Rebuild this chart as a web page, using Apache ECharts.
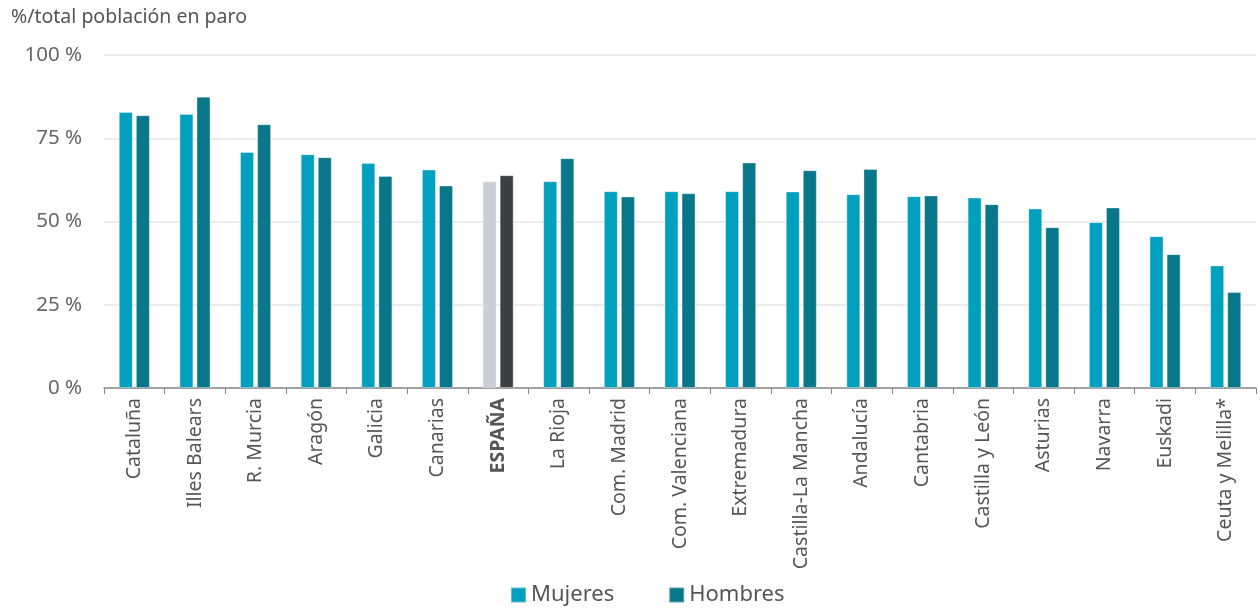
<!DOCTYPE html>
<html><head><meta charset="utf-8">
<script src="https://cdn.jsdelivr.net/npm/echarts@6/dist/echarts.min.js"></script>
<style>html,body{margin:0;padding:0;background:#fff}#c{width:1260px;height:609px}</style>
</head><body><div id="c"></div>
<script>
const categories = ["Cataluña","Illes Balears","R. Murcia","Aragón","Galicia","Canarias","ESPAÑA","La Rioja","Com. Madrid","Com. Valenciana","Extremadura","Castilla-La Mancha","Andalucía","Cantabria","Castilla y León","Asturias","Navarra","Euskadi","Ceuta y Melilla*"];
const mujeres = [82.9,82.3,70.9,70.2,67.6,65.6,62.1,62.1,59.1,59.1,59.1,59.0,58.2,57.6,57.2,53.9,49.8,45.6,36.8];
const hombres = [81.9,87.5,79.2,69.3,63.7,60.8,63.9,69.0,57.5,58.5,67.7,65.4,65.8,57.8,55.2,48.3,54.2,40.2,28.8];
const yTicks = [0,25,50,75,100];
const highlight = "ESPAÑA";

const cM = "#00A0BE", cH = "#077789", cMe = "#CBCFD6", cHe = "#3D3F42";
const font = "'Noto Sans', 'Open Sans', sans-serif";
const chart = echarts.init(document.getElementById('c'));
const mk = (vals, c, ce) => vals.map((v,i)=>({value:v,itemStyle:{color: categories[i]===highlight?ce:c}}));
chart.setOption({
  animation:false,
  title:{text:"%/total población en paro",left:6,top:2,textStyle:{fontFamily:font,fontSize:19.5,fontWeight:'normal',color:'#555'}},
  legend:{top:579,left:505,itemWidth:15,itemHeight:15,itemGap:54,icon:'rect',
    textStyle:{fontFamily:font,fontSize:22,color:'#555'},
    data:[{name:'Mujeres',itemStyle:{color:cM}},{name:'Hombres',itemStyle:{color:cH}}]},
  grid:{left:104,right:4,top:55,bottom:221,containLabel:false},
  xAxis:{type:'category',data:categories,
    axisLine:{lineStyle:{color:'#888',width:1.5}},
    axisTick:{show:true,length:6,lineStyle:{color:'#888'}},
    axisLabel:{rotate:90,fontFamily:font,fontSize:19.5,color:'#555',margin:10,interval:0,
      formatter:v=>v===highlight?'{b|'+v+'}':v,
      rich:{b:{fontWeight:'bold',fontFamily:font,fontSize:19.5,color:'#555'}}}},
  yAxis:{type:'value',min:yTicks[0],max:yTicks[yTicks.length-1],interval:25,
    axisLabel:{formatter:'{value} %',fontFamily:font,fontSize:20.5,color:'#666',margin:22},
    splitLine:{lineStyle:{color:'#e6e6ea',width:1.5}},axisLine:{show:false},axisTick:{show:false}},
  series:[
    {name:'Mujeres',type:'bar',data:mk(mujeres,cM,cMe),barWidth:14,barGap:'22%',itemStyle:{color:cM,borderColor:'rgba(255,255,255,0.35)',borderWidth:1}},
    {name:'Hombres',type:'bar',data:mk(hombres,cH,cHe),barWidth:14,barGap:'22%',itemStyle:{color:cH,borderColor:'rgba(255,255,255,0.35)',borderWidth:1}}
  ]
});
</script></body></html>
